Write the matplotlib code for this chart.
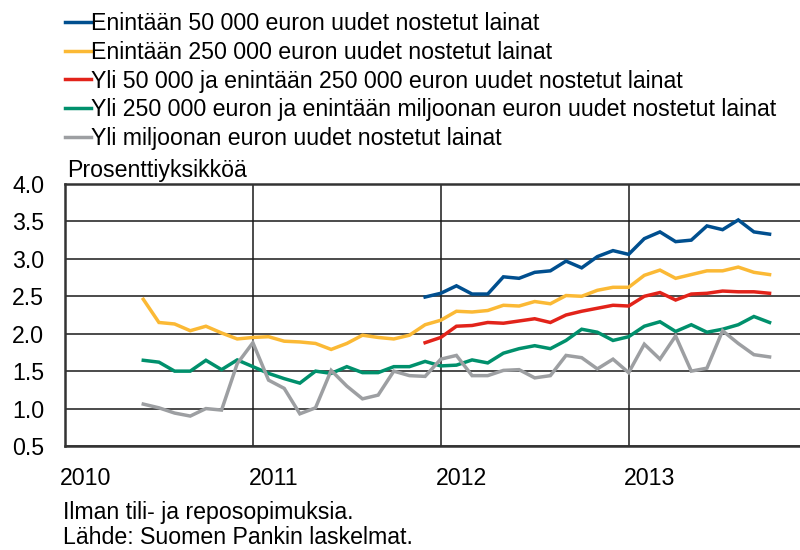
import matplotlib
matplotlib.use("Agg")
import matplotlib.pyplot as plt
import numpy as np

# ---- data (monthly, decimal year positions built from start month) ----
long_start = (2010, 6)   # first month of the long series
short_start = (2011, 12)  # first month of the short series

yellow_250k = [2.46, 2.15, 2.13, 2.04, 2.10, 2.01, 1.93, 1.95, 1.96, 1.90,
               1.89, 1.87, 1.79, 1.87, 1.98, 1.95, 1.93, 1.98, 2.12, 2.18,
               2.30, 2.29, 2.31, 2.38, 2.37, 2.43, 2.40, 2.51, 2.50, 2.58,
               2.62, 2.62, 2.78, 2.85, 2.74, 2.79, 2.84, 2.84, 2.89, 2.82, 2.79]
green_250k_1m = [1.645, 1.62, 1.50, 1.50, 1.645, 1.52, 1.65, 1.56, 1.47, 1.40,
                 1.34, 1.50, 1.47, 1.56, 1.48, 1.48, 1.56, 1.56, 1.63, 1.57,
                 1.58, 1.65, 1.61, 1.74, 1.80, 1.84, 1.80, 1.91, 2.06, 2.02,
                 1.91, 1.96, 2.10, 2.16, 2.03, 2.12, 2.02, 2.06, 2.12, 2.23, 2.15]
gray_over_1m = [1.06, 1.01, 0.94, 0.90, 1.00, 0.98, 1.60, 1.88, 1.38, 1.27,
                0.93, 1.01, 1.51, 1.30, 1.13, 1.18, 1.50, 1.44, 1.43, 1.66,
                1.71, 1.44, 1.44, 1.51, 1.52, 1.41, 1.44, 1.71, 1.68, 1.53,
                1.66, 1.48, 1.86, 1.66, 1.97, 1.50, 1.54, 2.04, 1.87, 1.72, 1.69]
blue_50k = [2.49, 2.54, 2.64, 2.53, 2.53, 2.76, 2.74, 2.82, 2.84, 2.97,
            2.88, 3.03, 3.11, 3.06, 3.27, 3.36, 3.23, 3.25, 3.44, 3.39,
            3.52, 3.36, 3.33]
red_50k_250k = [1.88, 1.95, 2.10, 2.11, 2.15, 2.14, 2.17, 2.20, 2.15, 2.25,
                2.30, 2.34, 2.38, 2.37, 2.50, 2.55, 2.45, 2.53, 2.54, 2.57,
                2.56, 2.56, 2.54]

labels = [
    "Enintään 50 000 euron uudet nostetut lainat",
    "Enintään 250 000 euron uudet nostetut lainat",
    "Yli 50 000 ja enintään 250 000 euron uudet nostetut lainat",
    "Yli 250 000 euron ja enintään miljoonan euron uudet nostetut lainat",
    "Yli miljoonan euron uudet nostetut lainat",
]
colors = ["#004f8f", "#fbb935", "#e2231a", "#00906c", "#9d9fa2"]
years = [2010, 2011, 2012, 2013]
yticks = [0.5, 1.0, 1.5, 2.0, 2.5, 3.0, 3.5, 4.0]
ylabel = "Prosenttiyksikköä"
notes = ["Ilman tili- ja reposopimuksia.", "Lähde: Suomen Pankin laskelmat."]


def xpos(start, n):
    y0, m0 = start
    return y0 + (m0 - 1) / 12.0 + np.arange(n) / 12.0


plt.rcParams['font.family'] = ['Liberation Sans', 'DejaVu Sans']
FS = 16.7

W, H = 800, 550
fig = plt.figure(figsize=(8, 5.5), dpi=100)
fig.patch.set_facecolor("white")
ax = fig.add_axes([65 / W, 1 - 446 / H, 1 - 65 / W, (446 - 184) / H])

series = [
    (short_start, blue_50k),
    (long_start, yellow_250k),
    (short_start, red_50k_250k),
    (long_start, green_250k_1m),
    (long_start, gray_over_1m),
]
handles = []
for (start, vals), lab, col in zip(series, labels, colors):
    h, = ax.plot(xpos(start, len(vals)), vals, color=col, lw=2.5,
                 solid_joinstyle="miter", label=lab, zorder=3)
    handles.append(h)

ax.set_ylim(0.5, 4.0)
ax.set_xlim(2010.0, 2013.912)
ax.set_yticks(yticks)
ax.set_yticklabels([f"{v:.1f}" for v in yticks])
ax.set_xticks(years)
ax.set_xticklabels([])
ax.set_xticks([y + 0.11 for y in years], minor=True)
ax.set_xticklabels([str(y) for y in years], minor=True)
ax.tick_params(axis="both", which="both", length=0, labelsize=FS)
ax.tick_params(axis="y", pad=15)
ax.tick_params(axis="x", which="minor", pad=15)

ax.grid(True, which="major", color="#1a1a1a", lw=1.1, zorder=1)
for s in ["left", "top", "bottom"]:
    ax.spines[s].set_color("#333333")
    ax.spines[s].set_linewidth(1.8)
ax.spines["right"].set_visible(False)

leg = fig.legend(handles=handles, labels=labels, loc="upper left",
                 bbox_to_anchor=(65 / W, 1 - 12 / H), frameon=False,
                 fontsize=FS, handlelength=1.1, handletextpad=0.0,
                 labelspacing=0.25, borderpad=0, borderaxespad=0)

fig.text(67 / W, 1 - 177 / H, ylabel, fontsize=FS, va="baseline", ha="left")
fig.text(63 / W, 1 - 519 / H, notes[0], fontsize=FS, va="baseline", ha="left")
fig.text(63 / W, 1 - 544 / H, notes[1], fontsize=FS, va="baseline", ha="left")

fig.savefig("out.png", dpi=100, facecolor="white")
